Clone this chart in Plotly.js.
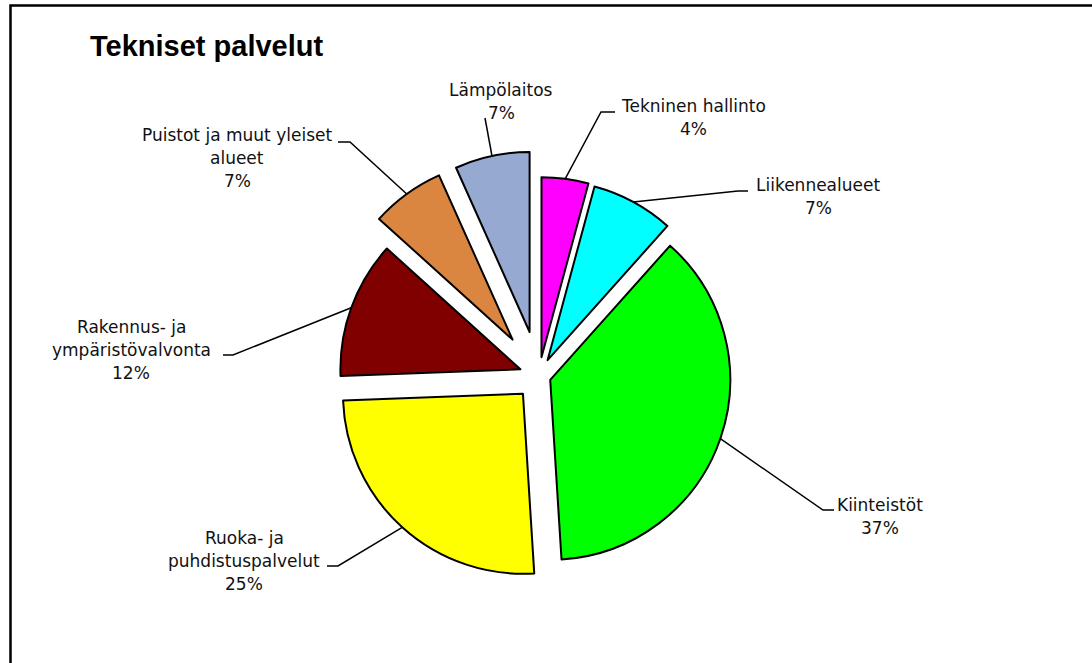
<!DOCTYPE html>
<html><head><meta charset="utf-8">
<script src="https://cdn.plot.ly/plotly-3.0.1.min.js"></script>
<style>html,body{margin:0;padding:0;background:#fff}#chart{width:1092px;height:663px}</style>
</head><body><div id="chart"></div>
<script>
// ---- data ----
const categories = ["Tekninen hallinto", "Liikennealueet", "Kiinteistöt", "Ruoka- ja puhdistuspalvelut", "Rakennus- ja ympäristövalvonta", "Puistot ja muut yleiset alueet", "Lämpölaitos"];
const shares = [4.2, 7.4, 37.4, 25.4, 12.3, 6.6, 6.7];
const labelLines = [["Tekninen hallinto"], ["Liikennealueet"], ["Kiinteistöt"], ["Ruoka- ja", "puhdistuspalvelut"], ["Rakennus- ja", "ympäristövalvonta"], ["Puistot ja muut yleiset", "alueet"], ["Lämpölaitos"]];

// ---- styles / layout ----
const colors = ["#FF00FF", "#00FFFF", "#00FF00", "#FFFF00", "#800000", "#DA8640", "#95A9D1"];
const pulls = [0.105, 0.10, 0.066, 0.133, 0.11, 0.25, 0.25];
const labelX = [693, 818, 880, 244, 131, 237, 501];
const labelY0 = [106, 185, 505, 538, 327, 135, 90];
const elbows = [[601, 112, 615], [738, 191, 748], [823, 510, 834], [338, 566, 327], [233, 355, 223], [350, 142, 338], [485, 118, 485]];
const W = 1092, H = 663, LINE = 23;
const domX = [0.24359, 0.74359], domY = [0.09351, 0.7722];

const px = x => x / W, py = y => 1 - y / H;

// pie geometry (same rules as Plotly)
const boxW = W * (domX[1] - domX[0]), boxH = H * (domY[1] - domY[0]);
const maxPull = Math.max(...pulls);
const R = Math.min(boxW, boxH) / (2 + 2 * maxPull);
const CX = W * (domX[0] + domX[1]) / 2;
const CY = H * (1 - domY[0]) - boxH / 2;
const total = shares.reduce((a, b) => a + b, 0);

const shapes = [{
  type: 'rect', xref: 'paper', yref: 'paper',
  x0: px(10.5), y0: py(5.5), x1: 1.1, y1: -0.1,
  line: {color: '#000', width: 2.5}, fillcolor: 'rgba(0,0,0,0)'
}];
const annotations = [];
let cum = 0;
shares.forEach((v, i) => {
  const mid = (cum + v / 2) / total * 2 * Math.PI;
  cum += v;
  const dx = Math.sin(mid), dy = -Math.cos(mid);
  const ax = CX + (1 + pulls[i]) * R * dx, ay = CY + (1 + pulls[i]) * R * dy;
  const [ex, ey, tx] = elbows[i];
  shapes.push({
    type: 'path', xref: 'paper', yref: 'paper',
    path: `M ${px(ax)},${py(ay)} L ${px(ex)},${py(ey)} L ${px(tx)},${py(ey)}`,
    line: {color: '#000', width: 1.5}
  });
  const pct = Math.round(v / total * 100) + '%';
  const lines = labelLines[i].concat([pct]);
  lines.forEach((t, k) => {
    annotations.push({
      xref: 'paper', yref: 'paper', x: px(labelX[i]), y: py(labelY0[i] + k * LINE),
      xanchor: 'center', yanchor: 'middle', showarrow: false, text: t,
      font: {family: 'DejaVu Sans', size: 17, color: '#111'}
    });
  });
});

const trace = {
  type: 'pie', labels: categories, values: shares, sort: false,
  direction: 'clockwise', rotation: 0, pull: pulls,
  marker: {colors: colors, line: {color: '#000', width: 2}},
  textinfo: 'none', hoverinfo: 'label+percent',
  domain: {x: domX, y: domY}
};

Plotly.newPlot('chart', [trace], {
  width: W, height: H, margin: {l: 0, r: 0, t: 0, b: 0},
  paper_bgcolor: '#fff', showlegend: false,
  title: {text: '<b>Tekniset palvelut</b>', xref: 'paper', yref: 'paper', x: px(90), xanchor: 'left', y: py(46), yanchor: 'middle',
          font: {family: 'Liberation Sans', size: 29, color: '#000'}},
  shapes: shapes, annotations: annotations
}, {staticPlot: true});
</script></body></html>
